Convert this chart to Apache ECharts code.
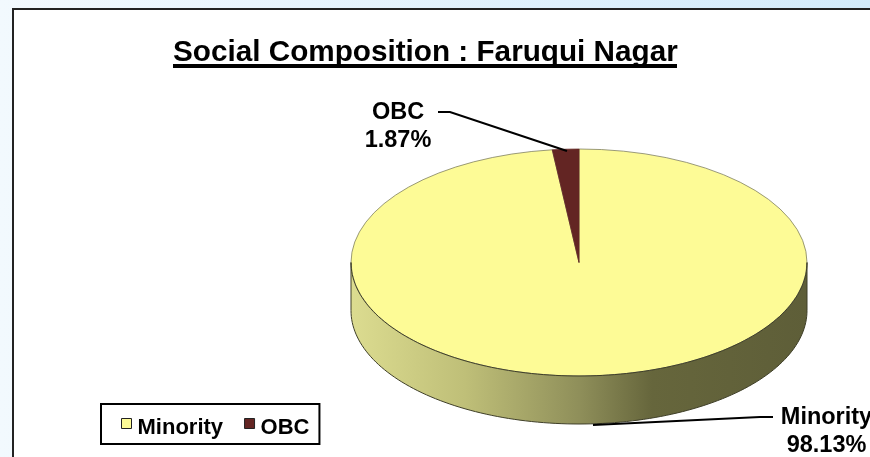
<!DOCTYPE html>
<html><head><meta charset="utf-8">
<style>html,body{margin:0;padding:0;background:#fff}#c{width:870px;height:457px}</style>
<script src="https://cdn.jsdelivr.net/npm/echarts@6/dist/echarts.min.js"></script>
</head><body><div id="c"></div>
<script>
const titleText = 'Social Composition : Faruqui Nagar';
const categories = ['Minority', 'OBC'];
const shares = [98.13, 1.87];
const colors = ['#FDFB96', '#632523'];

const CX = 579, CY = 262.5, RX = 228, RY = 113.5, DEPTH = 48;
const total = shares.reduce((a, b) => a + b, 0);
const sideStops = [
  { offset: 0, color: '#DCDC90' }, { offset: 0.25, color: '#BFBF78' },
  { offset: 0.5, color: '#8F8F5A' }, { offset: 0.66, color: '#66663C' },
  { offset: 1, color: '#5E5E38' }
];
const labelPos = [
  { x: 826.5, y: 432, line: [[593, 425], [760, 417], [773, 417]] },
  { x: 398, y: 126.5, line: [[438, 112], [450, 112], [567, 151]] }
];

function ell(a, dy) { return [CX + RX * Math.sin(a), CY - RY * Math.cos(a) + dy]; }

function renderSlice(idx) {
  return function () {
    const before = shares.slice(0, idx).reduce((a, b) => a + b, 0);
    const a0 = before / total * Math.PI * 2, a1 = (before + shares[idx]) / total * Math.PI * 2;
    const children = [];
    children.push({
      type: 'group', x: CX, y: CY, scaleY: RY / RX,
      children: [{
        type: 'sector',
        shape: { cx: 0, cy: 0, r0: 0, r: RX, startAngle: a0 - Math.PI / 2, endAngle: a1 - Math.PI / 2, clockwise: true },
        style: { fill: colors[idx], stroke: idx === 0 ? '#77775a' : colors[idx], lineWidth: 1 }
      }]
    });
    const s0 = Math.max(a0, Math.PI / 2), s1 = Math.min(a1, Math.PI * 1.5);
    if (s1 > s0) {
      const top = [], bot = [];
      for (let i = 0; i <= 120; i++) {
        const a = s0 + (s1 - s0) * i / 120;
        top.push(ell(a, 0)); bot.unshift(ell(a, DEPTH));
      }
      children.push({
        type: 'polygon', shape: { points: top.concat(bot) },
        style: {
          fill: { type: 'linear', x: CX - RX, y: 0, x2: CX + RX, y2: 0, global: true, colorStops: sideStops },
          stroke: '#3f3f28', lineWidth: 1
        }
      });
    }
    const lp = labelPos[idx];
    children.push({
      type: 'polyline', shape: { points: lp.line },
      style: { fill: null, stroke: '#000', lineWidth: 2 }, z2: 20
    });
    children.push({
      type: 'text', x: lp.x, y: lp.y, z2: 20,
      style: {
        text: categories[idx] + '\n' + shares[idx].toFixed(2) + '%',
        align: 'center', verticalAlign: 'middle', lineHeight: 28,
        font: 'bold 23.5px "Liberation Sans"', fill: '#000'
      }
    });
    return { type: 'group', children };
  };
}

const chart = echarts.init(document.getElementById('c'), null, { renderer: 'canvas' });
chart.setOption({
  animation: false,
  backgroundColor: {
    type: 'linear', x: 0, y: 0, x2: 1, y2: 0,
    colorStops: [{ offset: 0, color: '#F2F9FE' }, { offset: 1, color: '#D3EBFB' }]
  },
  graphic: [
    { type: 'rect', z: -1, shape: { x: 13, y: 9, width: 900, height: 500 },
      style: { fill: '#fff', stroke: '#222', lineWidth: 2 } },
    { type: 'line', z: 5, shape: { x1: 173, y1: 66, x2: 677, y2: 66 },
      style: { stroke: '#000', lineWidth: 4 } }
  ],
  title: {
    text: titleText, left: 173, top: 38, padding: 0,
    textStyle: { fontFamily: 'Liberation Sans', fontWeight: 'bold', fontSize: 29.7, color: '#000' }
  },
  legend: {
    left: 101, top: 404, orient: 'horizontal',
    padding: [13, 10, 5, 20], itemGap: 21,
    backgroundColor: '#fff', borderColor: '#000', borderWidth: 2, borderRadius: 0,
    itemWidth: 10, itemHeight: 10, icon: 'rect',
    formatter: '{t|{name}}',
    textStyle: {
      rich: { t: { fontFamily: 'Liberation Sans', fontWeight: 'bold', fontSize: 22, color: '#000', padding: [9, 0, 0, 1] } }
    },
    data: categories.map((n, i) => ({
      name: n, itemStyle: { color: colors[i], borderColor: '#222', borderWidth: 1 }
    }))
  },
  series: categories.map((n, i) => ({
    type: 'custom', name: n, coordinateSystem: 'none',
    itemStyle: { color: colors[i] },
    data: [shares[i]],
    z: 2 + (i === 0 ? 0 : 1),
    renderItem: renderSlice(i)
  }))
});
</script></body></html>
